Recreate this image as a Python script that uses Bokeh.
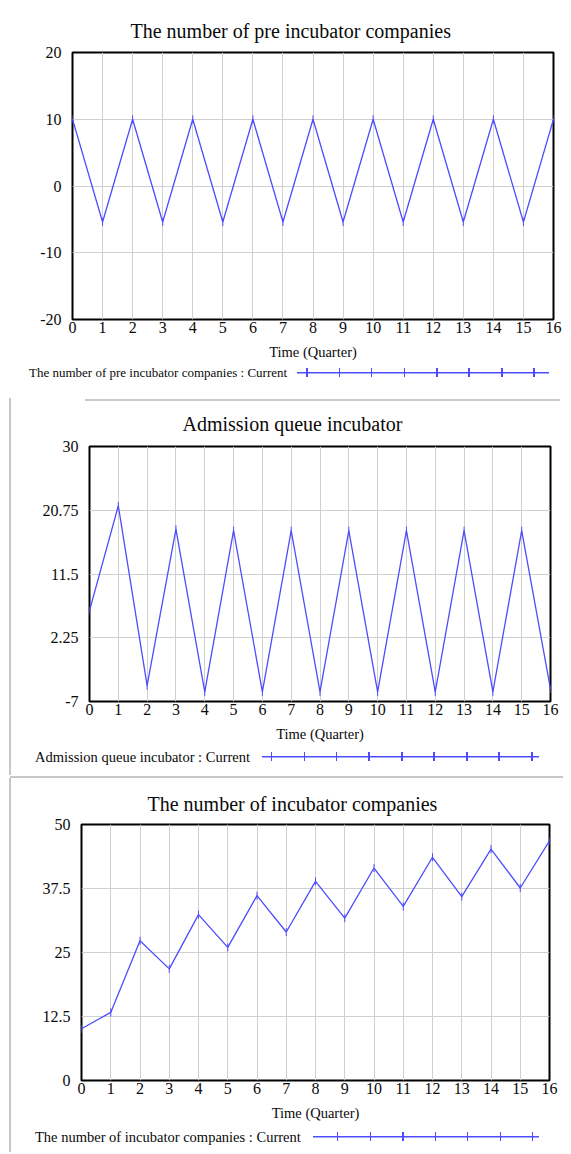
import math
from bokeh.plotting import figure
from bokeh.layouts import column, row
from bokeh.models import FixedTicker, Range1d, Div
from bokeh.embed import file_html
from bokeh.resources import INLINE

# ---------------- data ----------------
quarters = list(range(17))
x_ticks = list(range(17))

pre_incubator = [10, -5.4, 10, -5.4, 10, -5.4, 10, -5.4, 10, -5.4, 10, -5.4, 10, -5.4, 10, -5.4, 10]
admission_queue = [6.2, 21.4, -4.7, 18.0, -5.6, 17.8, -5.6, 17.8, -5.6, 17.8, -5.6, 17.8, -5.6, 17.8, -5.6, 17.8, -5.2]
incubator = [10.1, 13.3, 27.3, 21.8, 32.4, 26.0, 36.1, 29.0, 38.9, 31.7, 41.5, 34.0, 43.6, 35.9, 45.2, 37.6, 46.8]

pre_y_ticks = [-20, -10, 0, 10, 20]
pre_y_labels = ["-20", "-10", "0", "10", "20"]
adm_y_ticks = [-7, 2.25, 11.5, 20.75, 30]
adm_y_labels = ["-7", "2.25", "11.5", "20.75", "30"]
inc_y_ticks = [0, 12.5, 25, 37.5, 50]
inc_y_labels = ["0", "12.5", "25", "37.5", "50"]

titles = ["The number of pre incubator companies",
          "Admission queue incubator",
          "The number of incubator companies"]
legend_texts = ["The number of pre incubator companies : Current",
                "Admission queue incubator : Current",
                "The number of incubator companies : Current"]
x_label = "Time (Quarter)"

SERIF = "Liberation Serif"
BLUE = "#4d4dff"
GRID = "#d0d0d0"
INK = "#0a0a0a"
RULE = "#c8c8c8"

WIDTH = 563
LEFT_RULE = f"linear-gradient({RULE},{RULE}) 9px 0/2px 100% no-repeat"


def make_panel(title, y, yticks, ylabels, frame, borders,
               title_offset, title_standoff, backgrounds):
    fw, fh = frame
    left, top, bottom = borders
    p = figure(frame_width=fw, frame_height=fh, output_backend="svg",
               toolbar_location=None,
               x_range=Range1d(quarters[0], quarters[-1]),
               y_range=Range1d(yticks[0], yticks[-1]),
               min_border_left=left, min_border_right=WIDTH - left - fw,
               min_border_top=top, min_border_bottom=bottom)
    p.border_fill_color = None
    if backgrounds:
        p.styles = {"background": ", ".join(backgrounds)}
    p.title.text = title
    p.title.align = "left"
    p.title.offset = title_offset
    p.title.text_font = SERIF
    p.title.text_font_size = "20px"
    p.title.text_font_style = "normal"
    p.title.text_color = INK
    p.title.standoff = title_standoff

    p.outline_line_color = "black"
    p.outline_line_width = 2
    p.background_fill_color = "white"

    p.xaxis.ticker = FixedTicker(ticks=x_ticks)
    p.yaxis.ticker = FixedTicker(ticks=yticks)
    p.yaxis.major_label_overrides = {t: l for t, l in zip(yticks, ylabels)}
    for ax in (p.xaxis[0], p.yaxis[0]):
        ax.axis_line_color = None
        ax.major_tick_line_color = None
        ax.minor_tick_line_color = None
        ax.major_tick_out = 0
        ax.major_label_text_font = SERIF
        ax.major_label_text_font_size = "16px"
        ax.major_label_text_color = INK
    p.xaxis.major_label_standoff = 2
    p.yaxis.major_label_standoff = 11
    p.xaxis.axis_label = x_label
    p.xaxis.axis_label_text_font = SERIF
    p.xaxis.axis_label_text_font_size = "14.5px"
    p.xaxis.axis_label_text_font_style = "normal"
    p.xaxis.axis_label_text_color = INK
    p.xaxis.axis_label_standoff = 8

    p.xgrid.ticker = FixedTicker(ticks=x_ticks)
    p.ygrid.ticker = FixedTicker(ticks=yticks)
    for g in (p.xgrid[0], p.ygrid[0]):
        g.grid_line_color = GRID
        g.grid_line_width = 1

    p.line(quarters, y, line_color=BLUE, line_width=1.3)
    p.scatter(quarters, y, marker="dash", angle=math.pi / 2, size=8,
              line_color=BLUE, line_width=1)
    return p


def legend_div(text, font_size, text_left, line_left, line_w, tick_off, height,
               center_y, left_rule):
    ticks = (f"repeating-linear-gradient(to right, transparent 0 {tick_off}px, "
             f"{BLUE} {tick_off}px {tick_off + 1.5}px, transparent {tick_off + 1.5}px 32.5px)")
    sample_bg = f"linear-gradient({BLUE},{BLUE}) 0 4px/100% 1.5px no-repeat, {ticks}"
    html = (
        f'<div style="position:relative;width:{WIDTH}px;height:{height}px;'
        f"font-family:'{SERIF}',serif;font-size:{font_size};color:{INK};\">"
        f'<span style="position:absolute;left:{text_left}px;top:{center_y - 10}px;'
        f'line-height:20px;white-space:nowrap;">{text}</span>'
        f'<span style="position:absolute;left:{line_left}px;top:{center_y - 5}px;'
        f'width:{line_w}px;height:9px;background:{sample_bg};"></span>'
        f'</div>'
    )
    d = Div(text=html, width=WIDTH, height=height, margin=0)
    if left_rule:
        d.styles = {"background": LEFT_RULE}
    return d


p1 = make_panel(titles[0], pre_incubator, pre_y_ticks, pre_y_labels,
                (481, 267), (72, 52, 44), 58, 21, [])
d1 = legend_div(legend_texts[0], "13px", 29, 297, 252, 9, 35, 10, False)

p2 = make_panel(titles[1], admission_queue, adm_y_ticks, adm_y_labels,
                (461, 255), (89, 48, 44), 93, 23,
                [LEFT_RULE, f"linear-gradient({RULE},{RULE}) 85px 1px/475px 2px no-repeat"])
d2 = legend_div(legend_texts[1], "14.5px", 35, 262, 277, 9, 30, 12, True)

p3 = make_panel(titles[2], incubator, inc_y_ticks, inc_y_labels,
                (468, 256), (81, 49, 44), 66, 19,
                [f"linear-gradient({RULE},{RULE}) 10px 1px/100% 2px no-repeat",
                 f"linear-gradient({RULE},{RULE}) 9px 3px/2px 100% no-repeat"])
d3 = legend_div(legend_texts[2], "14.5px", 35, 313, 226, 24, 28, 13, True)

layout = column(row(p1), d1, row(p2), d2, row(p3), d3, spacing=0)
open("out.html", "w").write(file_html(layout, INLINE))
